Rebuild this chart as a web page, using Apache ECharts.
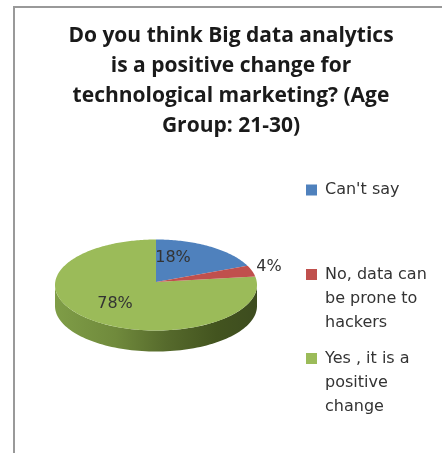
<!DOCTYPE html>
<html><head><meta charset="utf-8">
<style>html,body{margin:0;padding:0;background:#fff}#c{width:442px;height:453px;filter:blur(0.6px)}</style>
<script src="https://cdn.jsdelivr.net/npm/echarts@6/dist/echarts.min.js"></script>
</head><body><div id="c"></div>
<script>
const titleLines = ["Do you think Big data analytics","is a positive change for","technological marketing? (Age","Group: 21-30)"];
const categories = ["Can't say","No, data can\nbe prone to\nhackers","Yes , it is a\npositive\nchange"];
const values = [18,4,78];
const colors = ['#4f81bd','#c0504d','#9bbb59'];

const chart = echarts.init(document.getElementById('c'),null,{renderer:'canvas'});
const total = values.reduce((a,b)=>a+b,0);
const geo = {cx:156,cy:285,apexY:282,rx:101,ry:45.5,depth:21};
const labelPos = [[173,258],[269,267],[115,304]];
const pt = (deg,dy=0)=>{const t=deg*Math.PI/180;return [geo.cx+geo.rx*Math.sin(t),geo.cy-geo.ry*Math.cos(t)+dy];};

function renderSlice(idx){
  return function(params,api){
    const v = api.value(0);
    let start = 0;
    for(let i=0;i<idx;i++) start += values[i];
    const a0 = start/total*360, a1 = (start+v)/total*360;
    const children = [];
    const lo = Math.max(a0,90), hi = Math.min(a1,270);
    if(hi>lo){
      const side=[];
      for(let a=lo;a<=hi;a+=2) side.push(pt(a));
      for(let a=hi;a>=lo;a-=2) side.push(pt(a,geo.depth));
      children.push({type:'polygon',shape:{points:side},style:{fill:{type:'linear',x:0,y:0,x2:1,y2:0,colorStops:[
        {offset:0,color:'#7f9d47'},{offset:0.3,color:'#708a3c'},{offset:0.55,color:'#566a2c'},{offset:0.8,color:'#43541f'},{offset:1,color:'#3d4c1f'}]}}});
    }
    const top=[[geo.cx,geo.apexY]];
    for(let a=a0;a<a1;a+=1) top.push(pt(a));
    top.push(pt(a1));
    children.push({type:'polygon',shape:{points:top},style:{fill:colors[idx]}});
    children.push({type:'text',z2:20,style:{text:v+'%',x:labelPos[idx][0],y:labelPos[idx][1],align:'center',verticalAlign:'middle',font:'16px "DejaVu Sans"',fill:'#333'}});
    return {type:'group',children};
  };
}

const legendTop=[178,263,347], legendHeights=[11,60,60];
const legendIcons=['path://M0 0H11V11H0Z','path://M0 0H11V11H0Z M0 60H0','path://M0 0H11V11H0Z M0 60H0'];
chart.setOption({
  animation:false,
  backgroundColor:'#fff',
  title:{text:titleLines.join('\n'),left:226,top:16,textAlign:'center',
    textStyle:{fontFamily:'"Open Sans"',fontWeight:'bold',fontSize:21,lineHeight:30,color:'#1a1a1a'}},
  legend:categories.map((c,i)=>({
    data:[c],left:306,top:legendTop[i],orient:'vertical',padding:0,
    itemWidth:11,itemHeight:legendHeights[i],itemGap:0,
    icon:legendIcons[i],
    selectedMode:false,
    textStyle:{fontFamily:'"DejaVu Sans"',fontSize:16,lineHeight:24,color:'#333',padding:[0,0,0,3]},
    formatter:n=>n
  })),
  graphic:[{type:'polyline',silent:true,shape:{points:[[14,453],[14,7],[442,7]]},style:{stroke:'#999',lineWidth:2,fill:null}}],
  series:categories.map((c,i)=>({
    type:'custom',name:c,coordinateSystem:'none',
    itemStyle:{color:colors[i]},
    data:[[values[i]]],renderItem:renderSlice(i),z:i===2?1:2
  }))
});
</script></body></html>
